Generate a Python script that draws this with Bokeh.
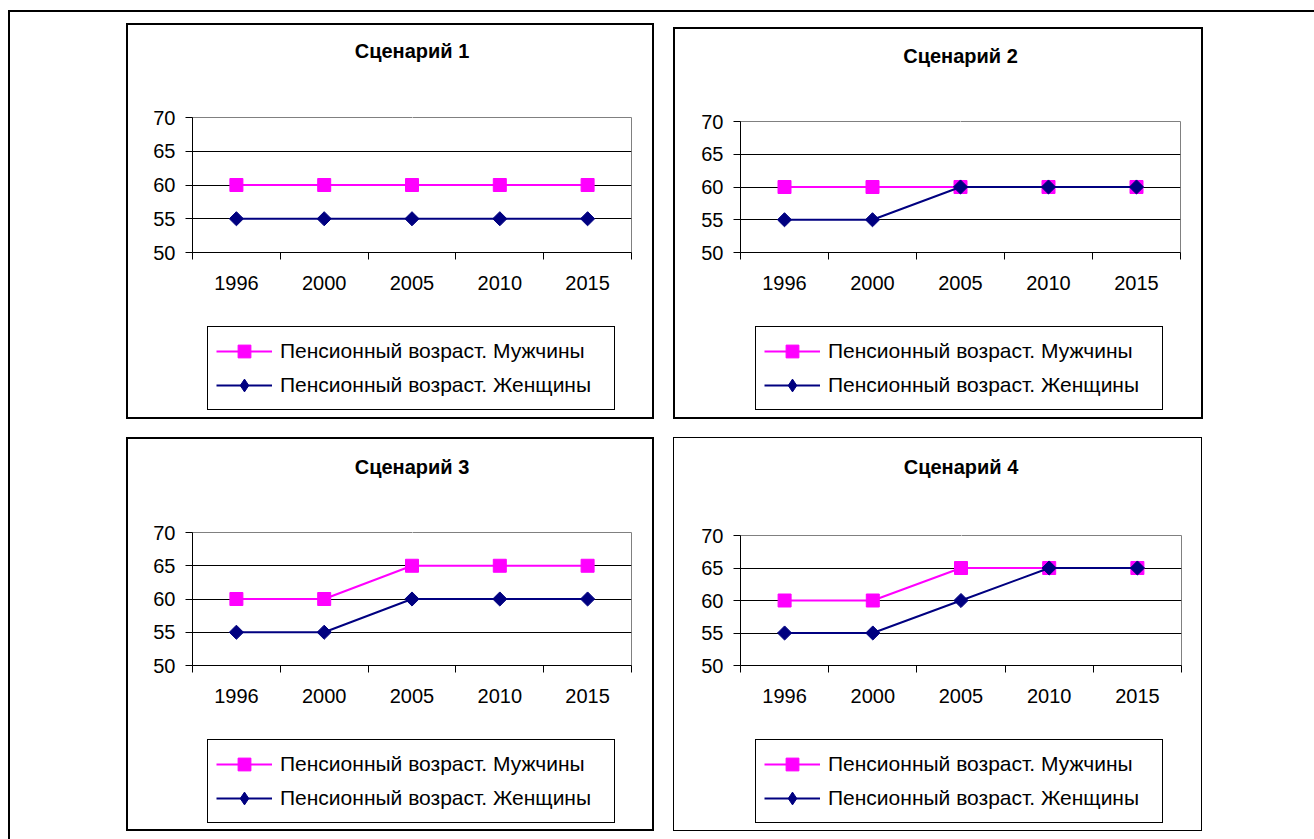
from math import pi
from bokeh.plotting import figure
from bokeh.models import FixedTicker, Legend, LegendItem, Spacer, Range1d, LinearAxis
from bokeh.layouts import row, column
from bokeh.embed import file_html
from bokeh.resources import INLINE

# ---- data ----
years = ["1996", "2000", "2005", "2010", "2015"]
titles = ["Сценарий 1", "Сценарий 2", "Сценарий 3", "Сценарий 4"]
men_1 = [60, 60, 60, 60, 60]
women_1 = [55, 55, 55, 55, 55]
men_2 = [60, 60, 60, 60, 60]
women_2 = [55, 55, 60, 60, 60]
men_3 = [60, 60, 65, 65, 65]
women_3 = [55, 55, 60, 60, 60]
men_4 = [60, 60, 65, 65, 65]
women_4 = [55, 55, 60, 65, 65]
y_ticks = [50, 55, 60, 65, 70]
men_label = "Пенсионный возраст. Мужчины"
women_label = "Пенсионный возраст. Женщины"

FONT = "Liberation Sans"
MEN_COLOR = "#FF00FF"
WOMEN_COLOR = "#000080"
BLACK = {"background-color": "black"}


def add_series(p, xs, men, women, legend_style=False):
    lm = p.line(xs, men, line_color=MEN_COLOR, line_width=2)
    sm = p.scatter(xs, men, marker="square", size=13, fill_color=MEN_COLOR, line_color=MEN_COLOR)
    lw = p.line(xs, women, line_color=WOMEN_COLOR, line_width=2)
    if legend_style:
        sw = p.scatter(xs, women, marker="diamond", size=14,
                       fill_color=WOMEN_COLOR, line_color=WOMEN_COLOR)
    else:
        sw = p.scatter(xs, women, marker="square", angle=pi / 4, size=10,
                       fill_color=WOMEN_COLOR, line_color=WOMEN_COLOR)
    return lm, sm, lw, sw


def make_chart(title, men, women, w, h, mb_left, mb_right, mb_top, mb_bottom, title_gap):
    n = len(years)
    p = figure(width=w, height=h, x_range=Range1d(0, n), y_range=Range1d(y_ticks[0], y_ticks[-1]),
               output_backend="svg", toolbar_location=None,
               min_border_left=mb_left, min_border_right=mb_right,
               min_border_top=mb_top, min_border_bottom=mb_bottom,
               title=title)
    p.background_fill_color = "white"
    p.border_fill_color = "white"
    p.outline_line_color = "#808080"
    p.outline_line_width = 1

    p.title.align = "center"
    p.title.text_font = FONT
    p.title.text_font_size = "20px"
    p.title.text_font_style = "bold"
    p.title.text_color = "black"
    p.title.standoff = 10

    xs = [i + 0.5 for i in range(n)]
    xax = p.xaxis[0]
    xax.ticker = FixedTicker(ticks=xs, minor_ticks=list(range(n + 1)))
    xax.major_label_overrides = {x: y for x, y in zip(xs, years)}
    xax.major_tick_out = 0
    xax.major_tick_in = 0
    xax.minor_tick_out = 7
    xax.minor_tick_in = 0
    xax.minor_tick_line_color = "black"
    xax.axis_line_color = "black"
    xax.major_label_standoff = 16
    xax.major_label_text_font = FONT
    xax.major_label_text_font_size = "20px"
    xax.major_label_text_color = "black"

    yax = p.yaxis[0]
    yax.ticker = FixedTicker(ticks=y_ticks)
    yax.major_tick_out = 7
    yax.major_tick_in = 0
    yax.minor_tick_line_color = None
    yax.axis_line_color = "black"
    yax.major_tick_line_color = "black"
    yax.major_label_standoff = 10
    yax.major_label_text_font = FONT
    yax.major_label_text_font_size = "20px"
    yax.major_label_text_color = "black"

    # blank gap between title and plot area: one white tick with an empty label
    gap_tick = n / 2.0
    gap = LinearAxis(ticker=FixedTicker(ticks=[gap_tick], minor_ticks=[]), axis_line_color=None,
                     major_tick_line_color="white", minor_tick_line_color=None,
                     major_tick_out=title_gap, major_tick_in=0,
                     minor_tick_out=0, minor_tick_in=0, major_label_standoff=0,
                     major_label_overrides={gap_tick: ""},
                     major_label_text_font_size="1px")
    p.add_layout(gap, "above")

    p.xgrid.grid_line_color = None
    p.ygrid.ticker = FixedTicker(ticks=y_ticks[1:-1])
    p.ygrid.grid_line_color = "black"
    p.ygrid.grid_line_width = 1

    add_series(p, xs, men, women)
    return p


def make_legend_fig(men, women, w, h, lx, ly):
    # legend strip; the series are drawn here too but fall outside its range
    n = len(years)
    q = figure(width=w, height=h, x_range=Range1d(-10, -9), y_range=Range1d(0, 1),
               output_backend="svg", toolbar_location=None,
               x_axis_type=None, y_axis_type=None,
               min_border_left=0, min_border_right=0, min_border_top=0, min_border_bottom=0)
    q.outline_line_color = None
    q.background_fill_color = "white"
    q.border_fill_color = "white"
    q.xgrid.grid_line_color = None
    q.ygrid.grid_line_color = None
    xs = [i + 0.5 for i in range(n)]
    lm, sm, lw, sw = add_series(q, xs, men, women, legend_style=True)
    legend = Legend(items=[LegendItem(label=men_label, renderers=[lm, sm]),
                           LegendItem(label=women_label, renderers=[lw, sw])],
                    location=(lx, ly), orientation="vertical",
                    border_line_color="black", border_line_width=1, border_line_alpha=1,
                    background_fill_color="white", background_fill_alpha=1,
                    label_text_font=FONT, label_text_font_size="21px", label_text_color="black",
                    glyph_width=56, glyph_height=32, label_height=32, label_width=326,
                    spacing=2, padding=8, label_standoff=8, margin=0)
    q.add_layout(legend)
    return q


def panel(title, men, women, w, h_chart, h_leg, bw, mb_left, mb_right, mb_top, mb_bottom,
          title_gap, lx, ly):
    p = make_chart(title, men, women, w, h_chart, mb_left, mb_right, mb_top, mb_bottom, title_gap)
    q = make_legend_fig(men, women, w, h_leg, lx, ly)
    h = h_chart + h_leg
    return column(Spacer(width=w + 2 * bw, height=bw, styles=BLACK),
                  row(Spacer(width=bw, height=h, styles=BLACK), column(p, q),
                      Spacer(width=bw, height=h, styles=BLACK)),
                  Spacer(width=w + 2 * bw, height=bw, styles=BLACK))


pan1 = panel(titles[0], men_1, women_1, 524, 275, 117, 2, 64, 21, 92, 48, 51, 15, 7)
pan2 = panel(titles[1], men_2, women_2, 526, 271, 117, 2, 65, 21, 92, 48, 50, 15, 7)
pan3 = panel(titles[2], men_3, women_3, 524, 274, 116, 2, 64, 21, 93, 48, 50, 15, 6)
pan4 = panel(titles[3], men_4, women_4, 527, 275, 117, 1, 66, 20, 97, 48, 53, 15, 7)

row1 = row(Spacer(width=116, height=396), pan1, Spacer(width=19, height=396),
           column(Spacer(width=530, height=4), pan2))
row2 = row(Spacer(width=116, height=394), pan3, Spacer(width=19, height=394), pan4)
body = column(Spacer(width=1304, height=2, styles=BLACK),
              Spacer(width=1304, height=11),
              row1,
              Spacer(width=1304, height=18),
              row2)
layout = column(Spacer(width=1314, height=10),
                row(Spacer(width=8, height=829), Spacer(width=2, height=829, styles=BLACK), body))

open("out.html", "w").write(file_html(layout, INLINE))
